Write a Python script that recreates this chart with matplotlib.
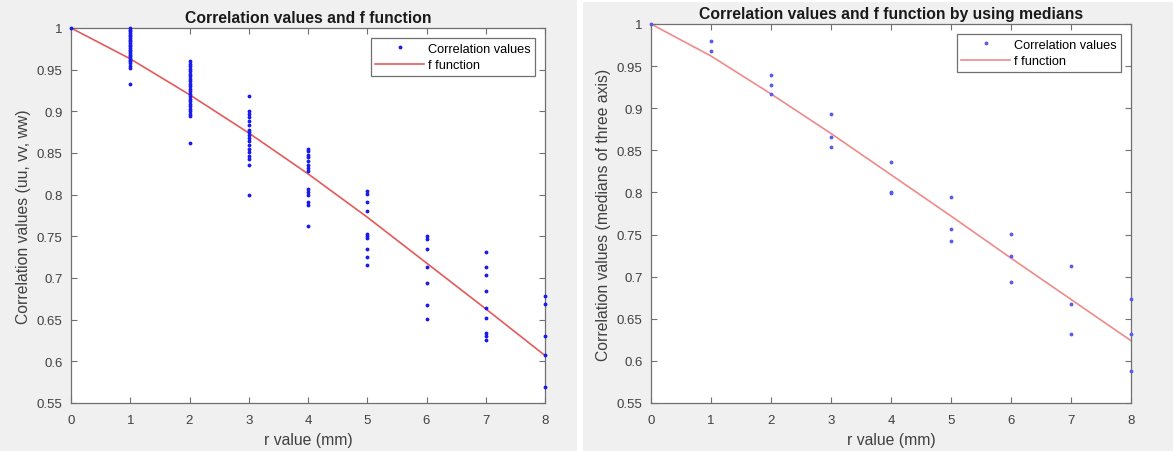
import matplotlib.pyplot as plt
from matplotlib.patches import Rectangle
from matplotlib.ticker import FuncFormatter

plt.rcParams['font.family'] = ['Liberation Sans', 'DejaVu Sans']

# r values (mm)
r_grid = [0, 1, 2, 3, 4, 5, 6, 7, 8]

# Correlation values (uu, vv, ww) for every r
corr_r1 = [1.0, 0.998, 0.996, 0.994, 0.992, 0.99, 0.988, 0.986, 0.984, 0.982, 0.98, 0.978,
           0.976, 0.974, 0.972, 0.97, 0.968, 0.966, 0.964, 0.962, 0.96, 0.958, 0.955, 0.952, 0.933]
corr_r2 = [0.96, 0.957, 0.954, 0.951, 0.948, 0.945, 0.942, 0.939, 0.936, 0.933, 0.93, 0.927,
           0.924, 0.921, 0.918, 0.915, 0.912, 0.909, 0.906, 0.903, 0.9, 0.897, 0.894, 0.862]
corr_r3 = [0.918, 0.901, 0.897, 0.893, 0.888, 0.884, 0.878, 0.875, 0.872, 0.868, 0.864, 0.86,
           0.855, 0.851, 0.847, 0.843, 0.836, 0.80]
corr_r4 = [0.855, 0.852, 0.848, 0.845, 0.841, 0.836, 0.832, 0.829, 0.807, 0.803, 0.8, 0.791,
           0.788, 0.762]
corr_r5 = [0.805, 0.801, 0.791, 0.780, 0.753, 0.750, 0.748, 0.735, 0.725, 0.716]
corr_r6 = [0.750, 0.747, 0.735, 0.713, 0.694, 0.668, 0.651]
corr_r7 = [0.731, 0.713, 0.704, 0.684, 0.664, 0.652, 0.634, 0.631, 0.626]
corr_r8 = [0.679, 0.669, 0.631, 0.608, 0.569]

# medians of the three axes for every r
med_r0 = [1.0]
med_r1 = [0.98, 0.968]
med_r2 = [0.94, 0.928, 0.917]
med_r3 = [0.893, 0.866, 0.854]
med_r4 = [0.836, 0.801, 0.799]
med_r5 = [0.795, 0.757, 0.742]
med_r6 = [0.751, 0.724, 0.694]
med_r7 = [0.713, 0.668, 0.632]
med_r8 = [0.673, 0.632, 0.588]

# fitted f function at each r
f_all = [1.0, 0.963, 0.920, 0.874, 0.825, 0.773, 0.718, 0.663, 0.607]
f_med = [1.0, 0.962, 0.917, 0.870, 0.821, 0.772, 0.722, 0.673, 0.624]

corr_all = [[1.0], corr_r1, corr_r2, corr_r3, corr_r4, corr_r5, corr_r6, corr_r7, corr_r8]
corr_med = [med_r0, med_r1, med_r2, med_r3, med_r4, med_r5, med_r6, med_r7, med_r8]


def flatten(groups):
    xs, ys = [], []
    for r, vals in zip(r_grid, groups):
        xs += [r] * len(vals)
        ys += vals
    return xs, ys


W, H = 1173, 452
fig = plt.figure(figsize=(W / 100, H / 100), dpi=100, facecolor='white')

# grey window backgrounds
fig.patches.append(Rectangle((0, 0), 577 / W, 1, transform=fig.transFigure,
                             facecolor='#f0f0f0', edgecolor='none', zorder=-10))
fig.patches.append(Rectangle((583 / W, 0), 1 - 583 / W, 449 / H, transform=fig.transFigure,
                             facecolor='#f0f0f0', edgecolor='none', zorder=-10))

ax1 = fig.add_axes([71 / W, (H - 404) / H, 474 / W, 375 / H])
ax2 = fig.add_axes([651 / W, (H - 404) / H, 480 / W, 379 / H])

panels = [
    (ax1, corr_all, f_all, 'Correlation values and f function',
     'Correlation values (uu, vv, ww)', '#e45a5a', '#1a1aee'),
    (ax2, corr_med, f_med, 'Correlation values and f function by using medians',
     'Correlation values (medians of three axis)', '#f08a8a', '#5a5af0'),
]

fmt = FuncFormatter(lambda v, p: '%g' % round(v, 2))

for ax, groups, fvals, title, ylabel, line_col, dot_col in panels:
    xs, ys = flatten(groups)
    ax.plot(xs, ys, '.', color=dot_col, markersize=3.5, label='Correlation values',
            clip_on=False, zorder=3)
    ax.plot(r_grid, fvals, '-', color=line_col, linewidth=1.2, label='f function')
    ax.set_xlim(0, 8)
    ax.set_ylim(0.55, 1)
    ax.set_xticks(r_grid)
    ax.set_yticks([0.55, 0.6, 0.65, 0.7, 0.75, 0.8, 0.85, 0.9, 0.95, 1.0])
    ax.yaxis.set_major_formatter(fmt)
    ax.tick_params(direction='in', top=True, right=True, length=4, width=0.8,
                   colors='#707070', labelcolor='#404040', labelsize=9.5)
    ax.tick_params(axis='x', pad=8)
    ax.tick_params(axis='y', pad=6)
    for s in ax.spines.values():
        s.set_color('#707070')
        s.set_linewidth(0.9)
    ax.set_title(title, fontsize=11.3, fontweight='bold', color='#1a1a1a', pad=4)
    ax.set_xlabel('r value (mm)', fontsize=11.3, color='#404040', labelpad=4)
    ax.set_ylabel(ylabel, fontsize=11.3, color='#404040', labelpad=4)
    leg = ax.legend(loc='upper right', fontsize=9.2, fancybox=False, framealpha=1,
                    edgecolor='#707070', handlelength=3.8, borderaxespad=0.8,
                    borderpad=0.35, labelspacing=0.35, handletextpad=0.3)
    leg.get_frame().set_linewidth(0.9)

fig.savefig('out.png', dpi=100)
